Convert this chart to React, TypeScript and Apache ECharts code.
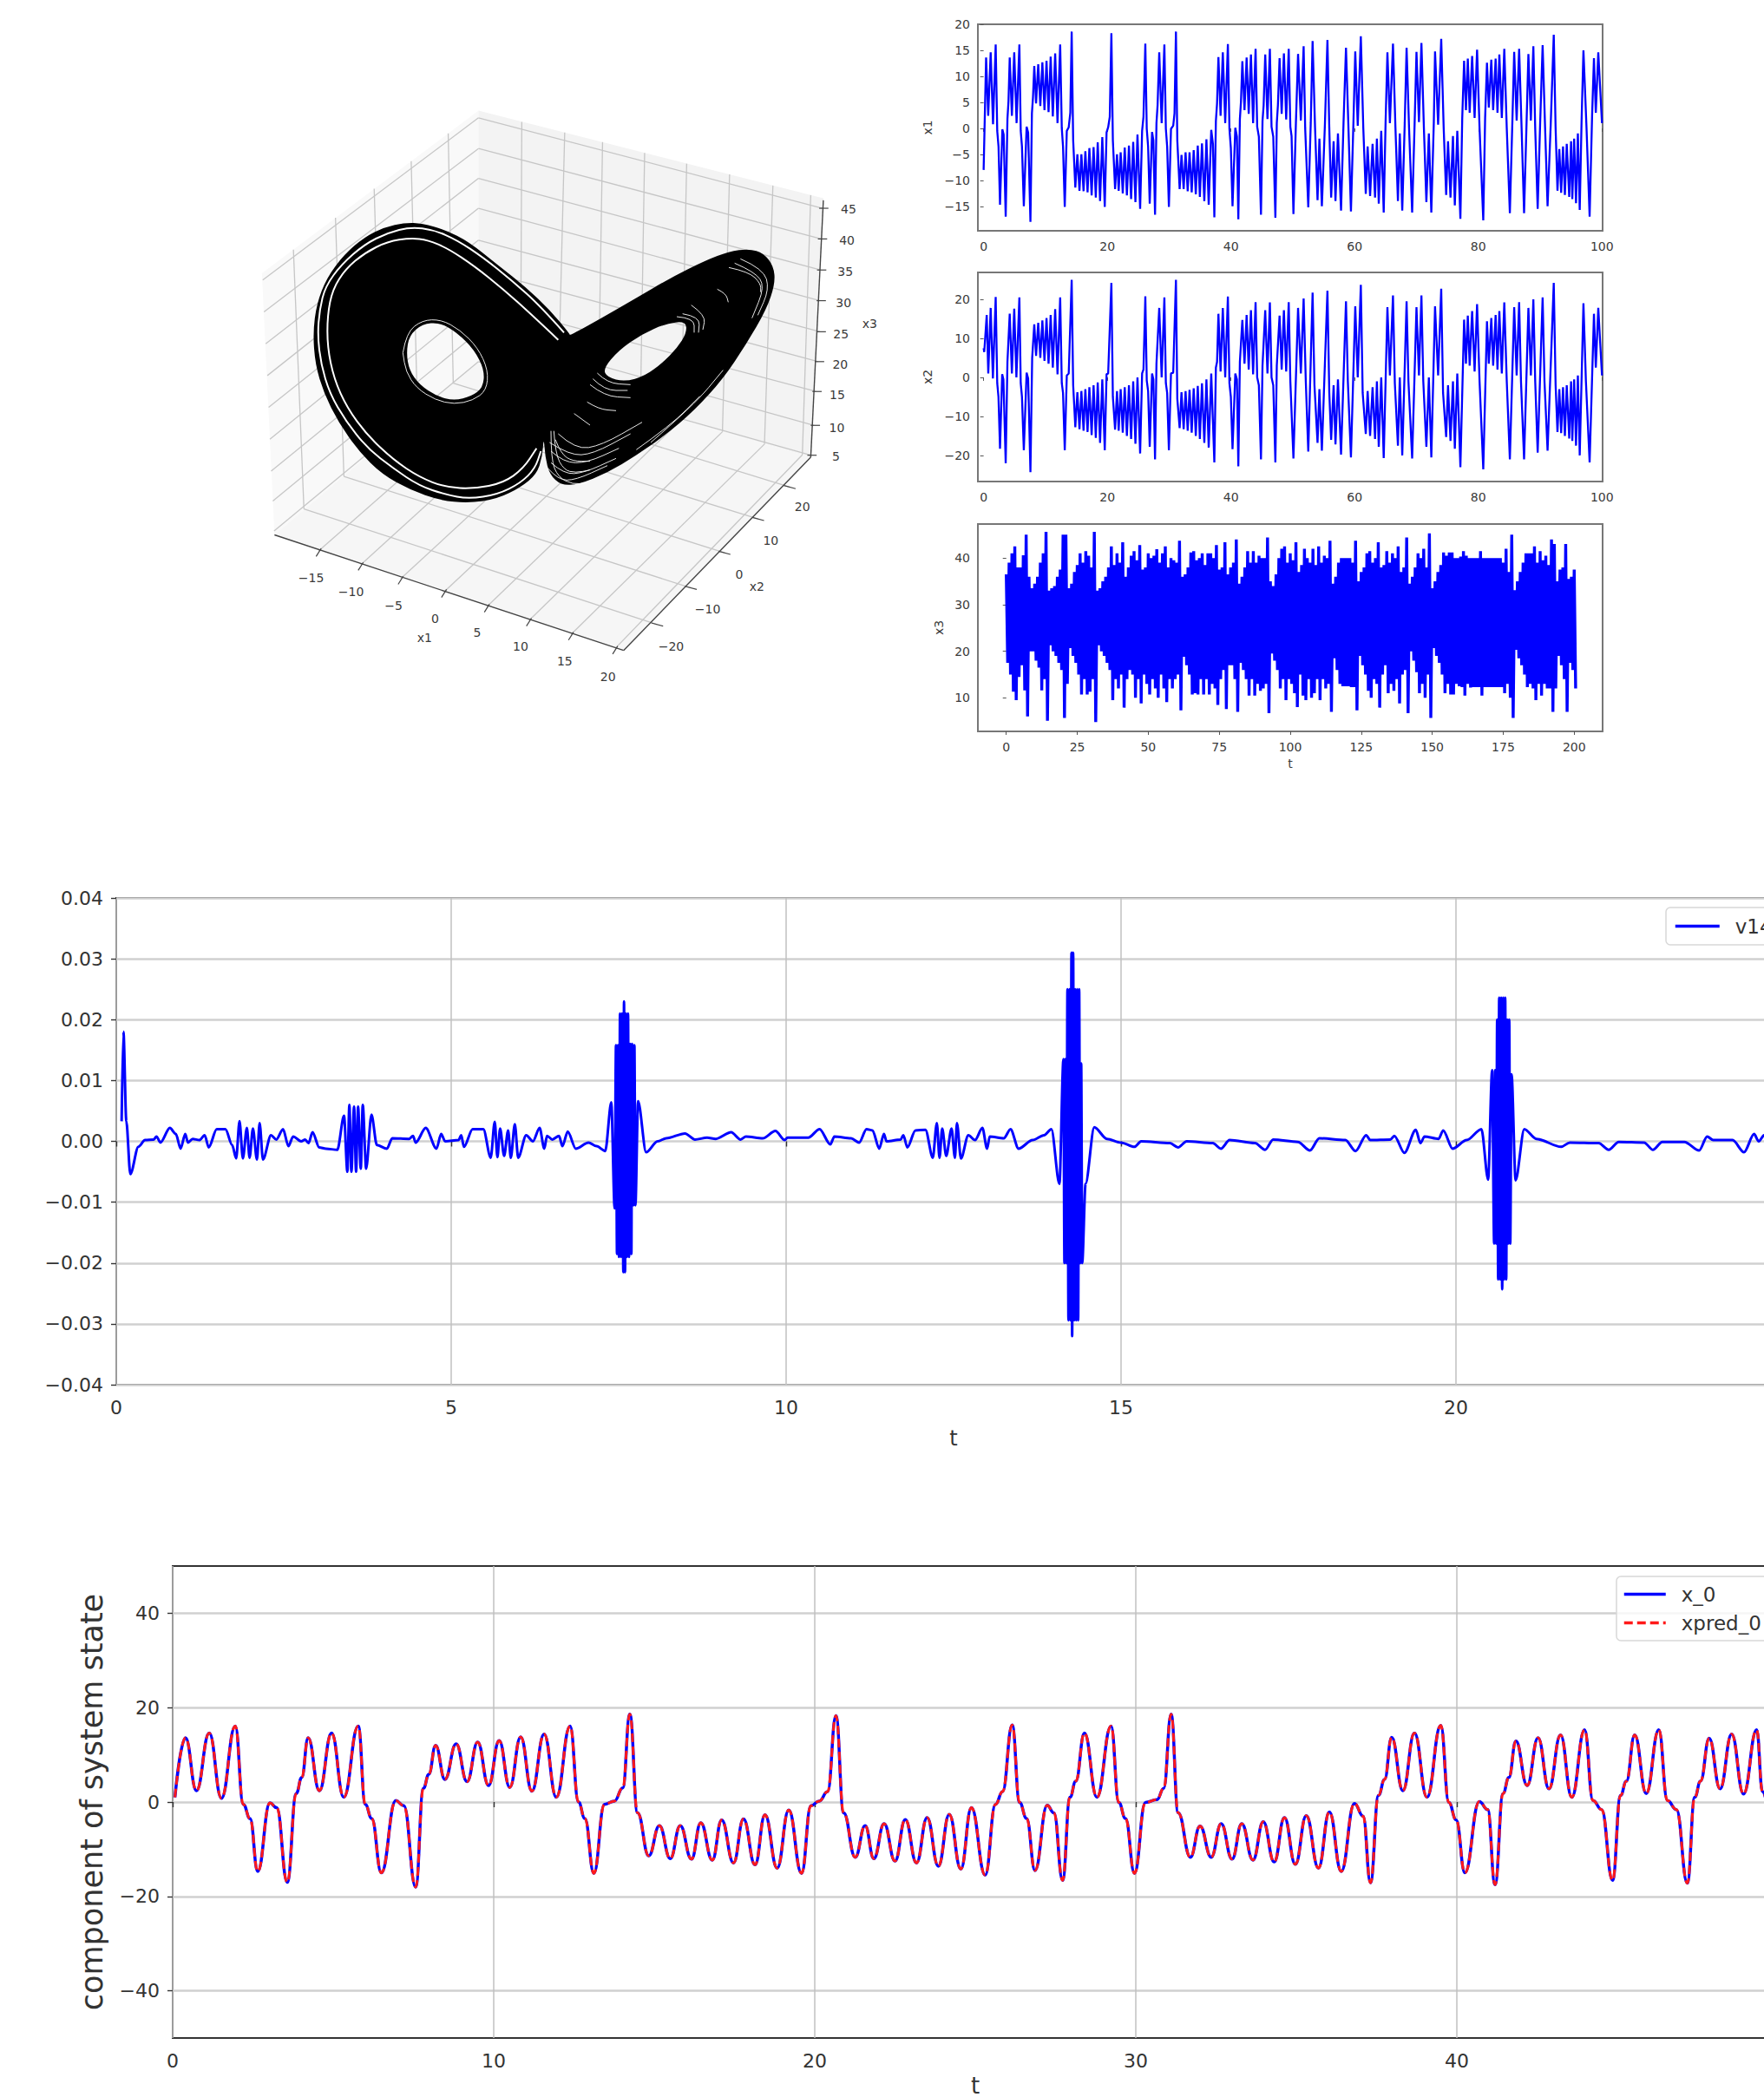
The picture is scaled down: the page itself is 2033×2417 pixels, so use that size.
import React, { useEffect, useRef } from "react";
import * as echarts from "echarts";

type P = [number, number];

const FONT = '"DejaVu Sans"';
const BLUE = "#0000ff";
const RED = "#ff1a1a";

// ---- readings of the x_0 curve (also the first half of x1) : [t, value]
const x0Readings: P[] = [
  [0.07,1],[0.4,13.6],[0.74,2.4],[1.14,14.6],[1.52,0.8],[1.95,16.1],[2.2,-0.5],[2.41,-3.5],[2.65,-14.7],[3.03,-0.2],[3.24,-1.2],[3.57,-17],
  [3.85,1.8],[4.02,5.2],[4.22,13.6],[4.57,2.4],[4.95,14.6],[5.33,1],[5.78,16.1],[6,-0.5],[6.2,-3.5],[6.5,-15],[6.95,0.3],[7.2,-0.8],[7.57,-18],
  [7.81,2.9],[7.98,5.9],[8.19,12],[8.48,4.8],[8.83,12.3],[9.17,4.3],[9.5,12.7],[9.84,3.5],[10.17,13],[10.5,3.1],[10.84,13.8],[11.19,2.3],[11.57,14.4],[11.95,1],[12.38,16.1],
  [12.64,0],[12.84,-3.5],[13.12,-15.1],[13.45,-0.5],[13.76,0.2],[14.02,3],[14.24,18.6],[14.48,-2.3],[14.83,-11.4],[15.16,-5],[15.5,-12],[15.81,-5],[16.16,-12.1],[16.45,-4.4],
  [16.81,-12.3],[17.1,-3.8],[17.47,-12.9],[17.78,-3.6],[18.14,-13.3],[18.45,-2.7],[18.83,-14],[19.19,-1.7],[19.59,-15.1],[19.88,-0.8],[20.14,0.2],[20.4,2.2],[20.66,18.3],
  [20.9,-2.3],[21.26,-11.7],[21.57,-5],[21.84,-12],[22.16,-4.6],[22.5,-12.5],[22.82,-3.7],[23.17,-12.9],[23.5,-3.3],[23.85,-13.6],[24.19,-2.6],[24.55,-14.2],[24.88,-1.2],[25.31,-15.5],
  [25.63,-0.5],[25.85,2.2],[26.15,16.3],[26.38,-0.1],[26.6,-3.5],[26.86,-14.5],[27.24,-0.7],[27.45,-2.3],[27.72,-16.6],[27.95,1],[28.13,4.4],[28.4,14.6],[28.79,1],[29.23,16.1],
  [29.47,-0.1],[29.68,-3.5],[29.96,-15.1],[30.3,-0.1],[30.66,0.5],[30.87,2.9],[31.1,18.6],[31.32,-2.3],[31.7,-11.7],[32,-5.1],[32.35,-11.7],[32.66,-4.6],[33,-12.1],[33.3,-4.6],
  [33.65,-12.3],[33.97,-4.2],[34.31,-12.7],[34.63,-3.3],[34.97,-13.2],[35.31,-2.9],[35.69,-14],[36.03,-2.1],[36.4,-14.7],[36.81,-0.3],[37.08,-3],[37.31,-17.1],[37.56,1.4],[37.75,4.8],
  [37.97,13.7],[38.32,2.4],[38.68,14.6],[39.07,1],[39.5,16.2],[39.75,-0.1],[39.98,-3.8],[40.25,-15],[40.7,0.1],[40.96,-1.6],[41.19,-17.5],[41.44,1.8],[41.62,5.2],[41.84,12.9],
  [42.19,3.5],[42.53,13.6],[42.87,2.8],[43.23,14.2],[43.58,1],[43.98,15.3],[44.24,0.3],[44.51,-1.6],[44.85,-16.6],[45.1,1.4],[45.28,4.4],[45.54,14.2],[45.9,1.8],[46.29,15.3],
  [46.56,0.3],[46.84,-1.6],[47.18,-17.2],[47.41,1],[47.59,4.4],[47.86,13.5],[48.2,2.8],[48.56,14.4],[48.93,1.7],[49.34,15.3],[49.52,2.2],[49.7,-0.2],[50,-3],
];
const xpredReadings: P[] = x0Readings;

const x1Tail: P[] = [
  [49.6,0.3],[49.8,-1.5],[50.1,-16.5],[50.5,1],[50.85,14.3],[51.3,1.5],[51.75,15.8],[52,0],[52.5,-15.2],[52.9,1],[53.2,16.8],[53.6,0],[54,-13.8],[54.3,-2],[54.7,-15],[55.2,1],[55.6,17],[55.9,0],
  [56.2,-13.3],[56.6,-2.5],[56.9,-14],[57.3,-1],[57.8,-15.8],[58.2,1],[58.6,15.5],[59,0],[59.4,-16],[59.8,1],[60.1,14.8],[60.5,0.5],[61,17.7],[61.4,0],[61.8,-12.6],[62.1,-3.5],[62.5,-13],[62.9,-3],
  [63.3,-13.3],[63.6,-2],[63.9,-14.5],[64.3,-0.5],[64.7,-16.2],[65,1],[65.3,14.6],[65.7,1],[66.2,16.3],[66.6,0],[67,-14],[67.3,-1],[67.7,-15.8],[68.1,1],[68.4,15.5],[68.8,0],[69.3,-16.2],[69.7,1],
  [70,14.7],[70.4,1.2],[70.8,16.4],[71.2,0],[71.6,-14.2],[72,-1],[72.4,-16.2],[72.8,1],[73,14.8],[73.5,0.7],[74,17.2],[74.4,0],[74.8,-12.8],[75.1,-2.5],[75.5,-13.3],[75.9,-1.5],[76.2,-14.8],[76.6,-0.5],
  [77.1,-17.4],[77.4,2],[77.7,13],[78,3.5],[78.3,13.4],[78.6,3],[79,13.9],[79.4,2],[79.8,15.1],[80.2,0],[80.8,-17.7],[81.1,2],[81.4,12.6],[81.7,4],[82.1,13.2],[82.4,3.5],[82.8,13.4],[83.1,3],[83.4,14.2],
  [83.8,2],[84.2,15.3],[84.6,0],[85.1,-16.3],[85.5,1],[85.8,14.7],[86.2,1.5],[86.6,15.3],[87,0],[87.4,-16.3],[87.8,1],[88.1,14.3],[88.5,1.5],[88.9,15.8],[89.2,0],[89.6,-15.5],[90,1],[90.4,16],[90.8,0],
  [91.2,-15],[91.7,0.5],[92.2,18],[92.5,0],[92.8,-12],[93.1,-4],[93.4,-12.4],[93.7,-3.5],[94,-12.8],[94.3,-3],[94.7,-13.2],[95,-2.5],[95.2,-13.6],[95.5,-2],[95.8,-14.4],[96.1,-1],[96.4,-15.7],[96.7,1.5],
  [97,15],[97.5,0],[98,-17],[98.4,2.5],[98.7,13.5],[99,3],[99.4,14.6],[100,1],
];

const x2Readings: P[] = [
  [0,7.5],[0.1,6.5],[0.5,16],[0.75,1],[1.14,17.8],[1.5,-0.3],[1.95,20.6],[2.2,-1.5],[2.4,-5],[2.65,-18.3],[3,0.8],[3.2,-0.5],[3.57,-22],[3.85,4],[4.22,16.3],[4.57,1],[4.95,17.6],[5.3,0],[5.78,20.5],
  [6,-1.5],[6.2,-5],[6.5,-18.7],[6.95,1.2],[7.2,-0.3],[7.57,-24.3],[7.85,5],[8.19,13.6],[8.48,5.5],[8.83,14],[9.17,5],[9.5,14.6],[9.84,4.2],[10.17,15.2],[10.5,3.5],[10.84,16],[11.19,2.5],[11.57,17.5],
  [11.95,0.8],[12.38,20.5],[12.64,-1.5],[12.84,-4],[13.12,-18.7],[13.45,0.5],[13.76,1],[14.24,25],[14.48,-2],[14.83,-12.8],[15.16,-3.8],[15.5,-13.3],[15.81,-3.5],[16.16,-13.7],[16.45,-3],[16.81,-14],
  [17.1,-2.5],[17.47,-14.8],[17.78,-2],[18.14,-15.5],[18.45,-1.3],[18.83,-16.8],[19.19,-0.5],[19.59,-18.7],[19.88,0.8],[20.14,1],[20.66,24.2],[20.9,-5],[21.26,-13.4],[21.57,-3.5],[21.84,-13.7],[22.16,-3],
  [22.5,-14.2],[22.82,-2.5],[23.17,-15],[23.5,-2],[23.85,-15.8],[24.19,-1],[24.55,-17],[24.88,0],[25.31,-19.5],[25.63,1],[25.85,2],[26.15,20.8],[26.38,-0.8],[26.6,-3.5],[26.86,-17.8],[27.24,1],[27.45,-0.5],
  [27.72,-21],[27.95,3.5],[28.4,17.8],[28.79,0],[29.23,20.5],[29.47,-1.5],[29.68,-4],[29.96,-18.7],[30.3,1],[30.66,1.2],[31.1,25],[31.32,-5.5],[31.7,-13],[32,-3.8],[32.35,-13.3],[32.66,-3.5],[33,-13.7],
  [33.3,-3.2],[33.65,-14.2],[33.97,-2.8],[34.31,-15],[34.63,-2.2],[34.97,-15.8],[35.31,-1.5],[35.69,-16.8],[36.03,-0.5],[36.4,-18],[36.81,1],[37.31,-21.8],[37.56,2.5],[37.75,4],[37.97,16.3],[38.32,1.5],
  [38.68,17.8],[39.07,0],[39.5,20.7],[39.75,-1.5],[39.98,-5],[40.25,-18.4],[40.7,1],[40.96,-0.5],[41.19,-22.8],[41.44,4],[41.84,14.7],[42.19,3.5],[42.53,16],[42.87,2],[43.23,17.2],[43.58,0.8],[43.98,19.3],
  [44.24,0],[44.51,-2],[44.85,-21],[45.1,3],[45.54,17.2],[45.9,1],[46.29,19.2],[46.56,0],[46.84,-2],[47.18,-21.8],[47.41,3],[47.86,15.8],[48.2,2],[48.56,17.2],[48.93,1.5],[49.34,19.3],[49.6,-1],[50.1,-20.8],
  [50.85,17.8],[51.3,1],[51.75,20.2],[52.1,-1],[52.5,-19],[53.2,21.7],[53.5,-2],[54,-16.8],[54.3,-3],[54.7,-18.8],[55.6,22.2],[55.9,-4],[56.2,-16],[56.6,-2],[56.9,-17.2],[57.3,-0.5],[57.8,-19.8],[58.6,19.5],
  [58.9,-1],[59.4,-20.5],[60.1,18.2],[60.5,0],[61,23.7],[61.3,-4],[61.8,-14.5],[62.1,-3.5],[62.5,-15],[62.9,-2.5],[63.3,-15.8],[63.6,-1],[63.9,-17.8],[64.3,0],[64.7,-20.7],[65.3,18],[65.7,0.5],[66.2,21],
  [66.5,-1.5],[67,-17.5],[67.3,0],[67.7,-20],[68.4,19.5],[68.7,-1],[69.3,-20.8],[70,18],[70.4,0.5],[70.8,21],[71.1,-1],[71.6,-17.8],[72,0],[72.4,-20.5],[73,18.2],[73.5,0.5],[74,22.7],[74.3,-4],[74.8,-15.3],
  [75.1,-2],[75.5,-16.3],[75.9,-1],[76.2,-18.3],[76.6,1],[77.1,-23],[77.7,14.8],[78,3.5],[78.3,15.8],[78.6,3],[79,17],[79.4,1.5],[79.8,18.8],[80.2,-1],[80.8,-23.6],[81.4,14.4],[81.7,3.5],[82.1,15.2],[82.4,3],
  [82.8,16],[83.1,2],[83.4,17],[83.8,1],[84.2,19.2],[84.6,-1],[85.1,-21],[85.8,18],[86.2,0.5],[86.6,19.3],[86.9,-1],[87.4,-21],[88.1,17.8],[88.5,0.5],[88.9,20],[89.2,-1],[89.6,-19.3],[90.4,20.5],[90.7,-1],
  [91.2,-18.8],[92.2,24.2],[92.5,-2],[92.8,-14],[93.1,-3],[93.4,-14.3],[93.7,-2.5],[94,-15],[94.3,-2],[94.7,-15.7],[95,-1],[95.2,-16.3],[95.5,-0.5],[95.8,-17.5],[96.1,0.5],[96.4,-20],[97,19],[97.4,-1],[98,-21.8],
  [98.7,16.3],[99,2.5],[99.4,17.8],[100,0.5],
];

// x3: per unit of t, upper and lower reach of the (very dense) oscillation
const x3Upper = [
  36.5,39,41,42.5,38,38,40.6,45,36,33.5,34.5,36,39,41,45.6,33,33.5,34,36,37.5,45,45,33.5,34.5,37,38.5,41,39,41.5,40.5,38,45.6,33,33.5,35,36,38,42.5,38.5,41,39,43.4,36,38,40.5,41.5,39.5,42.8,37.5,38,
  41,40,40.5,41.9,39,41,42.5,38,40,39.5,39,43.7,36,36.5,38,41.2,41.5,39.5,40,41,38.5,41,41,40,42.8,37.5,38,43.4,36.5,38,39,44,34.5,36,38,41.5,39,41.5,39,40.5,40,40,44.4,35,34,36.5,40,42,42.5,39,
  41,39.5,43.4,37,38.5,42,40,39,42,38.5,42.5,39,40.5,40,43.7,34.5,36,39,40,40,40,40,39,43.7,35,37,38,41,41.5,39,40,43.4,38,38.5,41.5,39,41,40,42.5,37,38,44.4,34.5,36,38,41,40,42,38,45.3,
  33.5,35,37,38.5,41.2,40.5,41.2,41.2,40,40,40.3,41.5,40.5,40,40,40,40,41.5,40,40,40,40,40,40,40,39,42,37,45,33.1,35,37,39,41,41,41,42.5,39,41.5,39.5,40.5,38.5,44,43,35,37.5,38,43,35.5,36,37.5,
];
const x3Lower = [
  17.5,15,11.3,9.5,14.5,17,11.6,6,20,20,18,16.5,11.6,14,5.1,21.3,20,19,17.5,16,5.7,13,20.7,19,17.5,15,10.7,14,10.7,11.3,14,4.8,21.3,20,19,17.5,16,9.5,14,12,15,7.9,14,16,15,10,14,8.8,15,13,
  10.7,14,12,10,15,12,9.1,14,12,14,15,7.3,18.8,17,15,10.7,11,10.7,14,10.7,14,10.7,13,12,8.5,14,16,7.6,17,17,14,7,17.5,16,14,10.5,14,10.5,13,11.5,12,13,6.7,19.5,18,16,12,14,9.5,14,
  13,11,8,15,10.5,9.5,14,10,11,14,9.5,14,12,13,7,18.5,16,13,12.5,12.5,12.5,12.3,12.3,7.3,19,17,15,11.5,10,14,13,7.9,15,17,11,13,11.5,14,8.8,15,16,6.7,20,18,15.5,11,13,10,15,5.7,
  20.7,19,17.5,15,11,13,10.7,10.7,13,12.5,12.3,10.5,13,12.2,12.3,12.3,12.3,10.5,12.3,12.3,12.3,12.3,12.3,12.3,12.3,11,13,10,5.7,20.3,18.5,17,15,12.3,13,12,9.5,13,10.5,13,12,12,7,12,19,17,14,7,17.5,16,12,
];

const v14Readings: P[] = [
  [0.08,0.0033],[0.107,0.018],[0.15,0.0033],[0.21,-0.0054],[0.33,-0.0009],[0.43,0.0002],[0.56,0.0003],[0.6,0.0008],[0.66,-0.0002],[0.8,0.0022],[0.89,0.0012],[0.96,-0.0012],[1.03,0.0012],[1.07,-0.0002],
  [1.14,0.0004],[1.24,0.0002],[1.32,0.001],[1.38,-0.001],[1.5,0.002],[1.63,0.002],[1.73,-0.0006],[1.79,-0.0028],[1.84,0.0033],[1.89,-0.0028],[1.95,0.0022],[1.99,-0.0027],[2.04,0.0021],[2.1,-0.003],[2.14,0.003],[2.19,-0.003],
  [2.31,0.001],[2.39,0.0003],[2.49,0.002],[2.57,-0.0008],[2.64,0.0008],[2.76,0],[2.82,0.0003],[2.87,-0.0003],[2.93,0.0015],[3.03,-0.001],[3.13,-0.0012],[3.3,-0.0014],[3.4,0.0042],
  [3.45,-0.005],[3.48,0.006],[3.51,-0.005],[3.55,0.0057],[3.58,-0.005],[3.61,0.0057],[3.65,-0.0045],[3.68,0.006],[3.73,-0.0045],[3.81,0.0044],[3.89,-0.0006],[4.04,-0.0012],[4.12,0.0005],[4.37,0.0004],[4.43,0.0009],[4.47,-0.0002],
  [4.62,0.0022],[4.78,-0.0012],[4.85,0.0012],[4.91,0],[5.11,0.0002],[5.15,0.001],[5.19,-0.0009],[5.32,0.002],[5.48,0.002],[5.59,-0.0027],[5.65,0.0032],[5.69,-0.0026],[5.73,0.0021],[5.79,-0.0024],[5.85,0.0018],[5.89,-0.0027],[5.95,0.0028],[6,-0.0027],
  [6.12,0.001],[6.22,0],[6.32,0.0022],[6.39,-0.0012],[6.43,0.0009],[6.51,0.0003],[6.61,0.0009],[6.66,-0.0008],[6.74,0.0016],[6.86,-0.0012],[7.05,-0.0002],[7.17,-0.0008],[7.3,-0.0016],[7.39,0.0064],
  [7.44,-0.011],[7.46,0.0158],[7.475,-0.0185],[7.49,0.0158],[7.505,-0.019],[7.52,0.021],[7.535,-0.019],[7.55,0.021],[7.57,-0.0215],[7.58,0.023],[7.595,-0.0215],[7.61,0.021],[7.625,-0.019],[7.64,0.021],[7.655,-0.019],[7.67,0.016],[7.69,-0.0185],[7.7,0.016],[7.72,-0.0105],[7.735,0.0158],[7.75,-0.0105],
  [7.79,0.0066],[7.91,-0.0018],[8.08,0],[8.21,0.0005],[8.49,0.0013],[8.64,0.0003],[8.82,0.0006],[8.95,0.0004],[9.18,0.0015],[9.32,0.0003],[9.4,0.0008],[9.65,0.0005],[9.84,0.0017],[9.98,0.0002],[10.02,0.0006],[10.33,0.0006],[10.5,0.002],[10.66,-0.0005],[10.72,0.0008],[10.97,0.0005],[11.09,-0.0002],[11.2,0.002],
  [11.29,0.0018],[11.39,-0.0012],[11.46,0.0012],[11.5,0],[11.71,0.0003],[11.75,0.001],[11.81,-0.001],[11.93,0.0018],[12.08,0.0019],[12.19,-0.0027],[12.25,0.003],[12.29,-0.0027],[12.33,0.0021],[12.39,-0.0024],[12.47,0.0021],[12.52,-0.0027],[12.55,0.003],[12.61,-0.0028],
  [12.72,0.001],[12.82,0.0002],[12.93,0.0022],[13,-0.0012],[13.04,0.0008],[13.25,0.0005],[13.35,0.002],[13.47,-0.0012],[13.68,0.0002],[13.85,0.001],[13.96,0.002],[14.08,-0.007],[14.14,0.0135],
  [14.155,-0.02],[14.17,0.0135],[14.185,-0.02],[14.2,0.025],[14.215,-0.0294],[14.23,0.025],[14.245,-0.0294],[14.26,0.031],[14.27,-0.032],[14.285,0.031],[14.3,-0.0294],[14.315,0.025],[14.33,-0.0294],[14.345,0.025],[14.36,-0.0294],[14.375,0.025],[14.39,-0.02],[14.405,0.0128],[14.42,-0.02],
  [14.47,-0.007],[14.6,0.0023],[14.79,0.0004],[15,-0.0002],[15.2,-0.0009],[15.3,0],[15.73,-0.0003],[15.85,-0.001],[15.98,0],[16.37,-0.0003],[16.49,-0.0012],[16.62,0.0002],[17,-0.0003],[17.15,-0.0014],[17.27,0.0003],[17.64,-0.0001],[17.82,-0.0015],[17.96,0.0005],[18.35,0.0002],[18.5,-0.0016],
  [18.66,0.001],[18.72,0.0002],[19.02,0.0003],[19.08,0.0009],[19.23,-0.0019],[19.4,0.0019],[19.47,-0.0003],[19.53,0.0008],[19.74,0.0004],[19.81,0.0018],[19.95,-0.0012],[20.16,0.0002],[20.38,0.002],[20.48,-0.0063],[20.54,0.0117],
  [20.57,-0.0168],[20.585,0.0117],[20.6,-0.0168],[20.615,0.02],[20.63,-0.0227],[20.645,0.0236],[20.66,-0.0227],[20.675,0.0236],[20.69,-0.0243],[20.705,0.0236],[20.72,-0.0227],[20.735,0.0236],[20.75,-0.0227],[20.765,0.02],[20.78,-0.0168],[20.795,0.02],[20.81,-0.0168],[20.83,0.011],
  [20.89,-0.0064],[21.02,0.002],[21.2,0.0004],[21.57,-0.0009],[21.7,-0.0002],[22.13,-0.0003],[22.28,-0.0014],[22.43,-0.0001],[22.81,-0.0002],[22.94,-0.0014],[23.08,-0.0001],[23.41,-0.0001],[23.63,-0.0015],[23.75,0.0008],[23.84,0.0002],[24.13,0.0002],[24.3,-0.0018],[24.45,0.0012],[24.52,0],[24.6,0.001],[24.7,0],
];

const ticksSmallT = [0, 20, 40, 60, 80, 100];
const ticksX1 = [-15, -10, -5, 0, 5, 10, 15, 20];
const ticksX2 = [-20, -10, 0, 10, 20];
const ticksX3 = [10, 20, 30, 40];
const ticksLongT = [0, 25, 50, 75, 100, 125, 150, 175, 200];
const ticksState = [-40, -20, 0, 20, 40];
const v14Ticks = [-0.04, -0.03, -0.02, -0.01, 0, 0.01, 0.02, 0.03, 0.04];

// ---- the 3D panel, read in the picture plane (first crop: 760x720 page region)
const paneLeft: P[] = [[45,468],[560,60],[560,690],[75,1125]];
const paneRight: P[] = [[560,60],[1380,280],[1350,930],[560,690]];
const paneFloor: P[] = [[75,1125],[560,690],[1350,930],[905,1415]];

const zLevelLeft: P[] = [[47,485],[50,565],[54,645],[58,725],[61,805],[64,885],[67,965],[71,1040],[74,1115]];
const zLevelBack: P[] = [[560,78],[560,155],[560,230],[560,305],[560,385],[560,460],[560,540],[560,615],[560,690]];
const zLevelRight: P[] = [[1378,305],[1375,382],[1373,460],[1372,537],[1372,615],[1368,690],[1362,765],[1358,850],[1350,925]];
const wallTopLeft: P[] = [[120,409],[220,329],[312,256],[400,187],[488,117]];
const wallBottomLeft: P[] = [[145,1060],[240,978],[330,897],[415,820],[500,744]];
const wallTopRight: P[] = [[663,88],[765,115],[855,139],[955,166],[1055,193],[1157,220],[1260,248],[1350,272]];
const wallBottomRight: P[] = [[660,720],[750,748],[845,777],[945,807],[1042,836],[1140,866],[1240,897],[1330,924]];
const x1TickAt: P[] = [[180,1165],[280,1200],[375,1235],[478,1268],[580,1305],[680,1340],[780,1375],[885,1410]];
const x2TickAt: P[] = [[985,1350],[1065,1258],[1145,1170],[1225,1085],[1300,1005]];
const axisEdge: P[] = [[75,1125],[905,1415],[1350,930],[1380,285]];

const x1Labels = ["\u221215","\u221210","\u22125","0","5","10","15","20"];
const x1LabelAt: P[] = [[162,1232],[257,1268],[358,1302],[457,1335],[557,1370],[660,1405],[765,1442],[868,1480]];
const x2Labels = ["\u221220","\u221210","0","10","20"];
const x2LabelAt: P[] = [[1018,1405],[1105,1312],[1180,1225],[1255,1140],[1330,1055]];
const x3Labels = ["5","10","15","20","25","30","35","40","45"];
const x3LabelAt: P[] = [[1410,928],[1412,855],[1413,773],[1420,697],[1422,620],[1428,543],[1432,465],[1436,385],[1440,308]];
const axisNames: [string, P][] = [["x1",[432,1382]],["x2",[1222,1255]],["x3",[1490,595]]];

// Attractor outline, crops of the left lobe and of the right lobe
const leftLobeEdge: P[] = [
  [950,435],[880,350],[800,275],[700,195],[600,115],[520,75],[440,52],[380,50],[310,65],[240,100],[170,160],[110,240],[75,330],[62,430],[70,540],[100,640],
  [150,740],[220,840],[300,920],[400,975],[500,1010],[600,1020],[700,1005],[780,965],[835,920],[855,860],[860,790],
];
const rightLobeEdge: P[] = [
  [85,770],[100,830],[140,868],[200,865],[300,825],[400,765],[500,695],[600,610],[700,500],[780,380],[850,260],[880,170],[875,110],[840,65],[790,50],[720,60],[640,90],[520,150],[400,220],[280,290],[170,350],
];
const leftHole: P[] = [[385,500],[395,440],[440,400],[500,395],[560,430],[620,490],[655,560],[650,620],[610,650],[550,665],[490,650],[430,610],[395,560]];
const rightHole: P[] = [[285,465],[340,400],[420,345],[500,310],[570,300],[575,340],[540,395],[490,445],[430,490],[360,510],[300,495]];
const leftStripes: P[][] = [
  [[930,430],[850,340],[750,250],[650,170],[560,110],[480,75],[400,65],[320,85],[240,125],[160,195],[105,270],[85,350],[78,440],[90,540],[120,640],[175,735],[250,830],[340,900],[430,960],[520,990],[600,1005],[700,990],[780,950],[830,900],[850,840]],
  [[910,455],[820,370],[720,280],[620,200],[530,140],[460,110],[400,103],[320,115],[240,155],[175,210],[130,280],[112,370],[112,480],[135,590],[180,690],[250,785],[340,870],[430,930],[520,965],[620,970],[720,950],[790,900],[835,830]],
];
const leftHairlines: P[][] = [
  [[373,500],[385,430],[440,387],[505,385],[570,420],[632,482],[668,560],[662,630],[615,665],[550,678],[485,663],[420,622],[383,565],[373,500]],
  [[885,770],[885,870],[910,930],[960,955],[1010,950]],
  [[895,770],[900,850],[930,905],[970,915],[1020,905]],
  [[900,800],[920,850],[960,875],[1020,875]],
];
const rightHairlines: P[][] = [
  [[105,750],[150,790],[230,790],[340,740]],[[105,790],[150,830],[220,825],[330,775]],[[100,720],[170,765],[250,760],[380,690]],
  [[95,810],[130,850],[190,850],[300,800]],[[130,690],[190,745],[280,730],[420,650]],[[400,745],[520,660],[620,560]],[[450,720],[600,590],[700,470]],
  [[720,115],[790,130],[830,170],[830,200]],[[760,85],[840,120],[860,190],[820,280]],[[740,100],[810,130],[845,180],[800,290]],[[680,190],[710,205],[718,235]],
  [[590,245],[640,280],[630,330]],[[540,285],[600,290],[600,340]],[[560,275],[620,285],[615,340]],
  [[240,520],[290,560],[380,565]],[[230,580],[270,605],[330,610]],[[185,620],[240,660]],[[265,480],[300,515],[380,520]],[[250,500],[290,540],[370,540]],
];

const fromBox = ([x, y]: P): P => [280 + x / 2.063, 100 + y / 2.178];
const fromLeft = ([x, y]: P): P => [340 + x / 3, 240 + y / 3];
const fromRight = ([x, y]: P): P => [600 + x / 3, 270 + y / 3];

const mid = (a: number[], b: number[]) => [(a[0] + b[0]) / 2, (a[1] + b[1]) / 2];
function closedD(pts: number[][]) {
  const n = pts.length;
  const s = mid(pts[n - 1], pts[0]);
  let d = `M${s[0]} ${s[1]}`;
  for (let i = 0; i < n; i++) {
    const m = mid(pts[i], pts[(i + 1) % n]);
    d += `Q${pts[i][0]} ${pts[i][1]} ${m[0]} ${m[1]}`;
  }
  return d + "Z";
}
function openD(pts: number[][]) {
  let d = `M${pts[0][0]} ${pts[0][1]}`;
  for (let i = 1; i < pts.length - 1; i++) {
    const m = mid(pts[i], pts[i + 1]);
    d += `Q${pts[i][0]} ${pts[i][1]} ${m[0]} ${m[1]}`;
  }
  const l = pts[pts.length - 1];
  return d + `L${l[0]} ${l[1]}`;
}

function renderPanel(_: any, api: any) {
  const c = (p: P) => api.coord(p) as number[];
  const box = (p: P) => c(fromBox(p));
  const seg = (a: number[], b: number[], stroke: string, lineWidth: number) => ({
    type: "line", shape: { x1: a[0], y1: a[1], x2: b[0], y2: b[1] }, style: { stroke, lineWidth },
  });
  const children: any[] = [];
  children.push({ type: "polygon", shape: { points: paneLeft.map(box) }, style: { fill: "#f9f9f9" } });
  children.push({ type: "polygon", shape: { points: paneRight.map(box) }, style: { fill: "#f3f3f3" } });
  children.push({ type: "polygon", shape: { points: paneFloor.map(box) }, style: { fill: "#f6f6f6" } });
  const G = "#c6c6c6";
  zLevelLeft.forEach((p, i) => {
    children.push(seg(box(p), box(zLevelBack[i]), G, 1.3));
    children.push(seg(box(zLevelBack[i]), box(zLevelRight[i]), G, 1.3));
  });
  wallTopLeft.forEach((p, i) => children.push(seg(box(p), box(wallBottomLeft[i]), G, 1.3)));
  wallTopRight.forEach((p, i) => children.push(seg(box(p), box(wallBottomRight[i]), G, 1.3)));
  x1TickAt.forEach((p, i) => children.push(seg(box(p), box(wallBottomRight[i]), G, 1.3)));
  x2TickAt.forEach((p, i) => children.push(seg(box(p), box(wallBottomLeft[i]), G, 1.3)));
  for (let i = 0; i < axisEdge.length - 1; i++) children.push(seg(box(axisEdge[i]), box(axisEdge[i + 1]), "#444", 1.4));
  x1TickAt.forEach((p) => children.push(seg(box([p[0] + 6, p[1] - 6]), box([p[0] - 6, p[1] + 14]), "#444", 1.2)));
  x2TickAt.forEach((p) => children.push(seg(box([p[0] - 14, p[1] - 4]), box([p[0] + 14, p[1] + 4]), "#444", 1.2)));
  zLevelRight.forEach((p) => children.push(seg(box([p[0] - 8, p[1]]), box([p[0] + 14, p[1]]), "#444", 1.2)));

  const outline = [...leftLobeEdge.map((p) => c(fromLeft(p))), ...rightLobeEdge.map((p) => c(fromRight(p)))];
  const d = closedD(outline) + closedD(leftHole.map((p) => c(fromLeft(p)))) + closedD(rightHole.map((p) => c(fromRight(p))));
  children.push({ type: "path", shape: { pathData: d }, style: { fill: "#000" } });
  leftStripes.forEach((s) =>
    children.push({ type: "path", shape: { pathData: openD(s.map((p) => c(fromLeft(p)))) }, style: { fill: "none", stroke: "#fff", lineWidth: 2 } })
  );
  leftHairlines.forEach((s) =>
    children.push({ type: "path", shape: { pathData: openD(s.map((p) => c(fromLeft(p)))) }, style: { fill: "none", stroke: "#fff", lineWidth: 0.9 } })
  );
  rightHairlines.forEach((s) =>
    children.push({ type: "path", shape: { pathData: openD(s.map((p) => c(fromRight(p)))) }, style: { fill: "none", stroke: "#fff", lineWidth: 0.9 } })
  );
  const text = (t: string, at: P) => {
    const q = box(at);
    children.push({
      type: "text",
      style: { text: t, x: q[0], y: q[1], fill: "#3a3a3a", font: `14px ${FONT}`, align: "center", verticalAlign: "middle" },
    });
  };
  x1Labels.forEach((t, i) => text(t, x1LabelAt[i]));
  x2Labels.forEach((t, i) => text(t, x2LabelAt[i]));
  x3Labels.forEach((t, i) => text(t, x3LabelAt[i]));
  axisNames.forEach(([t, at]) => text(t, at));
  return { type: "group", children };
}

const fmt = (digits: number) => (v: number) => {
  const s = Math.abs(v).toFixed(digits);
  return v < 0 ? `\u2212${s}` : s;
};

function smallAxes(opts: { grid: number; min: number; max: number; xMin: number; xMax: number; xTicks: number[]; yTicks: number[]; yName: string; yGap: number; xName?: string }) {
  const label = { color: "#3a3a3a", fontFamily: FONT, fontSize: 14 };
  return {
    x: {
      type: "value", gridIndex: opts.grid, min: opts.xMin, max: opts.xMax,
      axisLine: { show: false },
      axisTick: { length: 4, lineStyle: { color: "#555" }, customValues: opts.xTicks },
      axisLabel: { ...label, margin: 11, customValues: opts.xTicks, formatter: fmt(0) },
      splitLine: { show: false },
      name: opts.xName, nameLocation: "middle", nameGap: 30, nameTextStyle: { ...label },
    },
    y: {
      type: "value", gridIndex: opts.grid, min: opts.min, max: opts.max,
      axisLine: { show: false },
      axisTick: { length: 4, lineStyle: { color: "#555" }, customValues: opts.yTicks },
      axisLabel: { ...label, margin: 9, customValues: opts.yTicks, formatter: fmt(0) },
      splitLine: { show: false },
      name: opts.yName, nameLocation: "middle", nameRotate: 90, nameGap: opts.yGap, nameTextStyle: { ...label },
    },
  };
}

function bigAxes(grid: number, xMax: number, xInt: number, yMax: number, yTicks: number[], digits: number, xName: string, xGap: number, xSize: number, yName?: string) {
  const label = { color: "#333", fontFamily: FONT, fontSize: 22 };
  return {
    x: {
      type: "value", gridIndex: grid, min: 0, max: xMax, interval: xInt,
      axisLine: { show: false },
      axisTick: { length: 6, lineStyle: { color: "#333", width: 1.4 } },
      axisLabel: { ...label, margin: 15, showMaxLabel: false, formatter: fmt(0) },
      splitLine: { show: true, lineStyle: { color: "#c0c0c0", width: 1.5 } },
      name: xName, nameLocation: "middle", nameGap: xGap, nameTextStyle: { ...label, fontSize: xSize },
    },
    y: {
      type: "value", gridIndex: grid, min: -yMax, max: yMax,
      axisLine: { show: false },
      axisTick: { length: 6, lineStyle: { color: "#333", width: 1.4 }, customValues: yTicks },
      axisLabel: { ...label, margin: 15, customValues: yTicks, formatter: fmt(digits) },
      splitLine: { show: true, lineStyle: { color: "#d0d0d0", width: 2.5 } },
      name: yName, nameLocation: "middle", nameRotate: 90, nameGap: 76, nameTextStyle: { ...label, fontSize: 35 },
    },
  };
}

export default function App() {
  const ref = useRef<HTMLDivElement>(null);
  useEffect(() => {
    document.body.style.margin = "0";
    document.documentElement.style.overflow = "hidden";
    const chart = echarts.init(ref.current!, undefined, { renderer: "svg" });

    const x1Series: P[] = [[0, -8], ...x0Readings.filter((p) => p[0] >= 0.4 && p[0] <= 49.34), ...x1Tail];
    const x3Series: P[] = x3Upper.flatMap((hi, i) => [[i, hi], [i + 0.5, x3Lower[i]]] as P[]);

    const a1 = smallAxes({ grid: 1, min: -19.7, max: 20, xMin: -0.93, xMax: 100.1, xTicks: ticksSmallT, yTicks: ticksX1, yName: "x1", yGap: 51 });
    const a2 = smallAxes({ grid: 2, min: -26.7, max: 26.9, xMin: -0.93, xMax: 100.1, xTicks: ticksSmallT, yTicks: ticksX2, yName: "x2", yGap: 51 });
    const a3 = smallAxes({ grid: 3, min: 2.8, max: 47.3, xMin: -10, xMax: 210, xTicks: ticksLongT, yTicks: ticksX3, yName: "x3", yGap: 38, xName: "t" });
    const b1 = bigAxes(4, 25, 5, 0.04, v14Ticks, 2, "t", 50, 24);
    const b2 = bigAxes(5, 50, 10, 50, ticksState, 0, "t", 42, 26, "component of system state");

    const smallGrid = { show: true, borderColor: "#777", borderWidth: 2, backgroundColor: "#fff", outerBoundsMode: "none" };
    const bigGrid = { show: true, borderColor: "#333", borderWidth: 2, backgroundColor: "#fff", outerBoundsMode: "none" };
    const line = (name: string, xi: number, data: P[], width: number, extra: any = {}) => ({
      type: "line", name, xAxisIndex: xi, yAxisIndex: xi, data, showSymbol: false, symbol: "none",
      lineStyle: { color: BLUE, width, join: "bevel", ...(extra.lineStyle || {}) },
      itemStyle: { color: extra.color || BLUE },
      z: extra.z || 3, smooth: extra.smooth || false, smoothMonotone: extra.smooth ? "x" : undefined,
      emphasis: { disabled: true },
    });
    const legendBox = {
      orient: "vertical", itemWidth: 48, itemHeight: 14,
      itemStyle: { color: "rgba(0,0,0,0)", borderColor: "rgba(0,0,0,0)", borderWidth: 0, opacity: 0 },
      lineStyle: { width: 3.5 },
      textStyle: { fontFamily: FONT, fontSize: 23, color: "#333", padding: [0, 0, 0, 13] },
      borderColor: "#d8d8d8", borderWidth: 1.5, borderRadius: 5, backgroundColor: "rgba(255,255,255,0.8)",
    };

    chart.setOption({
      animation: false,
      backgroundColor: "#fff",
      tooltip: { show: false },
      grid: [
        { left: 0, top: 0, width: 2033, height: 2417, show: false, outerBoundsMode: "none" },
        { left: 1127, top: 28, width: 720, height: 238, ...smallGrid },
        { left: 1127, top: 314, width: 720, height: 241, ...smallGrid },
        { left: 1127, top: 604, width: 720, height: 239, ...smallGrid },
        { left: 134, top: 1035, width: 1930, height: 561, ...bigGrid },
        { left: 199, top: 1805, width: 1850, height: 544, ...bigGrid },
      ],
      xAxis: [{ type: "value", gridIndex: 0, min: 0, max: 2033, show: false }, a1.x, a2.x, a3.x, b1.x, b2.x],
      yAxis: [{ type: "value", gridIndex: 0, min: 0, max: 2417, inverse: true, show: false }, a1.y, a2.y, a3.y, b1.y, b2.y],
      legend: [
        { ...legendBox, data: ["v14"], left: 1920, top: 1046, padding: [10, 12, 10, 9], itemWidth: 51 },
        { ...legendBox, data: ["x_0", "xpred_0"], left: 1863, top: 1817, padding: [9, 12, 9, 7], itemGap: 10 },
      ],
      series: [
        { type: "custom", xAxisIndex: 0, yAxisIndex: 0, data: [[0, 0]], clip: false, silent: true, renderItem: renderPanel },
        line("x1", 1, x1Series, 2.3),
        line("x2", 2, x2Readings, 2.3),
        line("x3", 3, x3Series, 3.4),
        line("v14", 4, v14Readings, 3, { smooth: 0.3 }),
        line("x_0", 5, x0Readings, 3.5, { smooth: 0.45 }),
        line("xpred_0", 5, xpredReadings, 3, { smooth: 0.45, z: 4, color: RED, lineStyle: { color: RED, type: [10, 5] } }),
      ],
    });
    return () => chart.dispose();
  }, []);
  return (
    <div style={{ width: 2033, height: 2417, overflow: "hidden" }}>
      <div ref={ref} style={{ width: 2100, height: 2417 }} />
    </div>
  );
}
